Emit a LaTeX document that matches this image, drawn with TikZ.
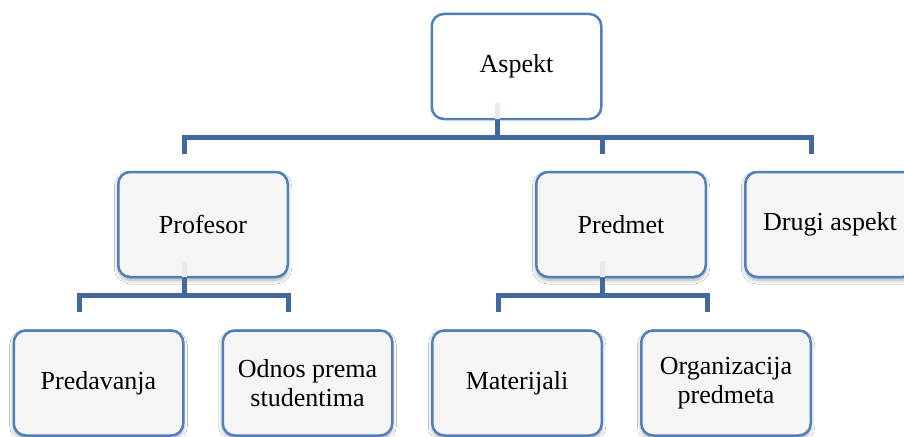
\documentclass[tikz,border=0pt]{standalone}
\usepackage{fontspec}
\setmainfont{Liberation Serif}
\usetikzlibrary{shadows.blur}
\definecolor{boxborder}{HTML}{5080BC}
\definecolor{connblue}{HTML}{41699D}
\definecolor{stubcol}{HTML}{E6EBF2}
\definecolor{boxfill}{HTML}{F5F5F5}
\begin{document}
\begin{tikzpicture}[x=1pt,y=-1pt,
  basebox/.style={draw=boxborder, line width=2.5pt, rounded corners=12pt, fill=white,
    minimum width=169.5pt, minimum height=105pt, align=center, inner sep=0pt,
    font=\fontsize{26}{29}\selectfont},
  box/.style={basebox, fill=boxfill,
    blur shadow={shadow xshift=0pt, shadow yshift=-3pt, shadow blur radius=4pt, shadow opacity=35}},
  conn/.style={draw=connblue, line width=5pt},
  stub/.style={draw=stubcol, line width=5pt}]
\clip (0,0) rectangle (904,436);
\fill[white] (0,0) rectangle (904,436);
\coordinate (bar1) at (0,137);
\coordinate (bar2) at (0,295);
% boxes
\node[basebox] (aspekt) at (516.5,66.5) {Aspekt};
\node[box] (profesor) at (203,224.5) {Profesor};
\node[box] (predmet) at (621,224.5) {Predmet};
\node[box] (drugi) at (830,224.5) {Drugi aspekt};
\node[box] (predavanja) at (98.5,383) {Predavanja};
\node[box] (odnos) at (307.5,383) {Odnos prema\\studentima};
\node[box] (materijali) at (517,383) {Materijali};
\node[box] (organizacija) at (726,383) {Organizacija\\predmeta};
% connectors from Aspekt
\foreach \c in {profesor,predmet,drugi}{
  \draw[conn] ([xshift=-19pt]aspekt.south) |- ([xshift=-19pt]\c.north |- bar1) -- ([xshift=-19pt,yshift=17pt]\c.north);
}
% connectors from Profesor
\foreach \c in {predavanja,odnos}{
  \draw[conn] ([xshift=-19pt]profesor.south) |- ([xshift=-19pt]\c.north |- bar2) -- ([xshift=-19pt,yshift=17pt]\c.north);
}
% connectors from Predmet
\foreach \c in {materijali,organizacija}{
  \draw[conn] ([xshift=-19pt]predmet.south) |- ([xshift=-19pt]\c.north |- bar2) -- ([xshift=-19pt,yshift=17pt]\c.north);
}
% faded stubs inside parent boxes
\foreach \p in {aspekt,profesor,predmet}{
  \draw[stub] ([xshift=-19pt,yshift=1.5pt]\p.south) -- ++(0,-16);
}
\end{tikzpicture}
\end{document}
